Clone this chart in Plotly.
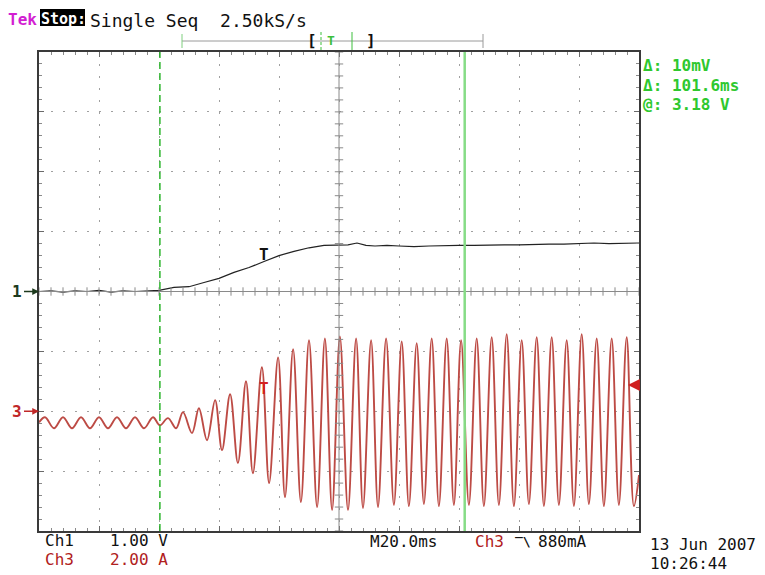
import plotly.graph_objects as go

# ---------------- data ----------------
# time in ms from left edge of screen (20 ms/div, 10 div)
ch1_t = [0, 4, 8, 12, 16, 20, 24, 28, 32, 36, 40, 45, 50, 55, 60, 65, 70, 75, 80,
         85, 90, 95, 100, 103, 106, 109, 112, 116, 120, 125, 130, 135, 140, 145,
         150, 155, 160, 165, 170, 175, 180, 185, 190, 195, 200]
ch1_v = [0.0, 0.01, -0.01, 0.01, 0.0, 0.02, -0.01, 0.01, 0.0, 0.01, 0.02, 0.07,
         0.08, 0.15, 0.22, 0.32, 0.40, 0.50, 0.60, 0.67, 0.73, 0.77, 0.78, 0.78,
         0.81, 0.77, 0.76, 0.77, 0.76, 0.75, 0.76, 0.77, 0.77, 0.77, 0.78, 0.78,
         0.78, 0.79, 0.79, 0.79, 0.80, 0.81, 0.80, 0.81, 0.81]

# Ch3 current extrema (ms, A)
ch3_t = [0.0, 2.0, 5.0, 8.0, 11.0, 14.0, 17.0, 20.0, 23.0, 26.0, 29.0, 32.0, 35.0,
         38.0, 40.3, 43.0, 45.7, 48.0, 51.0, 53.3, 56.0, 58.7, 61.0, 63.7, 66.3,
         69.0, 71.3, 74.3, 76.7, 79.7, 82.0, 84.7, 87.3, 90.0, 92.7, 95.3, 97.7,
         100.3, 103.0, 105.7, 108.0, 110.7, 113.0, 115.7, 118.3, 120.9, 123.3,
         125.9, 128.3, 130.9, 133.3, 135.9, 138.3, 140.7, 143.3, 145.9, 148.3,
         150.9, 153.3, 155.9, 158.3, 160.9, 163.3, 165.9, 168.3, 170.9, 173.3,
         175.9, 178.3, 180.9, 183.3, 185.9, 188.3, 190.9, 193.3, 195.9, 198.3, 200.0]
ch3_a = [-0.37, -0.20, -0.57, -0.20, -0.57, -0.20, -0.57, -0.20, -0.57, -0.20,
         -0.57, -0.20, -0.57, -0.20, -0.47, -0.23, -0.57, -0.03, -0.73, 0.10,
         -0.97, 0.37, -1.30, 0.57, -1.73, 1.00, -2.07, 1.47, -2.40, 1.80, -2.87,
         2.07, -3.03, 2.37, -3.20, 2.43, -3.30, 2.50, -3.30, 2.43, -3.23, 2.37,
         -3.20, 2.43, -3.13, 2.33, -3.17, 2.27, -3.10, 2.43, -3.17, 2.43, -3.13,
         2.37, -3.13, 2.43, -3.17, 2.47, -3.13, 2.57, -3.17, 2.37, -3.10, 2.47,
         -3.17, 2.47, -3.13, 2.37, -3.17, 2.57, -3.10, 2.43, -3.17, 2.43, -3.13,
         2.47, -3.17, -2.13]

ch1_scale = 1.0      # V/div
ch3_scale = 2.0      # A/div
ch3_offset = -2.0    # div (marker "3")
cursor_t = [40.3, 141.9]
trig_t = 75.0
trig_level = 0.88    # A

# ---------------- helpers (page pixel -> paper) ----------------
PAGE_W, PAGE_H = 765, 575
OFF = 8                      # default body margin of the page
L, R, T, B = 39, 639, 52, 531  # graticule frame in page pixels


def px(x):
    return (x - L) / (R - L)


def py(y):
    return (B - y) / (B - T)


FONT = "DejaVu Sans Mono, Liberation Mono, monospace"
NB = "\u00a0"

fig = go.Figure()

fig.add_trace(go.Scatter(
    x=ch3_t, y=[ch3_offset + a / ch3_scale for a in ch3_a], mode="lines",
    line=dict(color="#bd4b45", width=1.9, shape="spline", smoothing=1.0),
    hoverinfo="skip", name="Ch3"))
fig.add_trace(go.Scatter(
    x=ch1_t, y=[v / ch1_scale for v in ch1_v], mode="lines",
    line=dict(color="#222222", width=1.2), hoverinfo="skip", name="Ch1"))

shapes = []
# centre cross
shapes.append(dict(type="line", xref="x", yref="y", x0=0, x1=200, y0=0, y1=0,
                   line=dict(color="#8a8a8a", width=1)))
shapes.append(dict(type="line", xref="x", yref="y", x0=100, x1=100, y0=-4, y1=4,
                   line=dict(color="#8a8a8a", width=1)))
for k in range(51):
    xx = 4 * k
    shapes.append(dict(type="line", xref="x", yref="y", x0=xx, x1=xx, y0=-0.07, y1=0.07,
                       line=dict(color="#8a8a8a", width=1)))
for k in range(41):
    yy = -4 + 0.2 * k
    shapes.append(dict(type="line", xref="x", yref="y", x0=98.6, x1=101.4, y0=yy, y1=yy,
                       line=dict(color="#8a8a8a", width=1)))
# cursors
shapes.append(dict(type="line", xref="x", yref="y", x0=cursor_t[0], x1=cursor_t[0],
                   y0=-4, y1=4, line=dict(color="#2fb52f", width=1.5, dash="7px,4px")))
shapes.append(dict(type="line", xref="x", yref="y", x0=cursor_t[1], x1=cursor_t[1],
                   y0=-4, y1=4, line=dict(color="#86dc86", width=2.5)))
# top record ruler
shapes.append(dict(type="line", xref="paper", yref="paper", x0=px(182), x1=px(483),
                   y0=py(41), y1=py(41), line=dict(color="#9a9a9a", width=1)))
shapes.append(dict(type="line", xref="paper", yref="paper", x0=px(182), x1=px(182),
                   y0=py(34), y1=py(48), line=dict(color="#7fcf7f", width=1)))
shapes.append(dict(type="line", xref="paper", yref="paper", x0=px(483), x1=px(483),
                   y0=py(34), y1=py(48), line=dict(color="#9a9a9a", width=1)))
shapes.append(dict(type="line", xref="paper", yref="paper", x0=px(321), x1=px(321),
                   y0=py(32), y1=py(50), line=dict(color="#3cbf3c", width=1, dash="3px,2px")))
shapes.append(dict(type="line", xref="paper", yref="paper", x0=px(352), x1=px(352),
                   y0=py(32), y1=py(50), line=dict(color="#3cbf3c", width=1)))
# "Stop:" box
shapes.append(dict(type="rect", xref="paper", yref="paper", x0=px(40), x1=px(85),
                   y0=py(26), y1=py(9), fillcolor="#000000", line=dict(width=0)))

ann = []


def text(x, y, s, color="#111111", size=16, anchor="left", bold=True, yanchor="middle"):
    ann.append(dict(xref="paper", yref="paper", x=px(x), y=py(y),
                    text=(f"<b>{s}</b>" if bold else s),
                    showarrow=False, xanchor=anchor, yanchor=yanchor, borderpad=0,
                    font=dict(family=FONT, size=size, color=color)))


# status line (top of the drawable area)
text(7, 8.5, "Tek", color="#d21ed2", size=16, yanchor="top")
text(40, 8.5, "Stop:", color="#ffffff", size=15, yanchor="top")
text(89, 8.5, f"Single{NB}Seq{NB}{NB}2.50kS/s", size=18, bold=False, yanchor="top")
text(306, 41, "[", size=16)
text(365, 41, "]", size=16)
text(331, 41, "T", color="#3cbf3c", anchor="center", size=13)

text(642, 66, "Δ: 10mV", color="#2ec82e", size=16)
text(642, 85, "Δ: 101.6ms", color="#2ec82e", size=16)
text(642, 104, "@: 3.18 V", color="#2ec82e", size=16)

text(44, 540, "Ch1", bold=False)
text(109, 540, "1.00 V", bold=False)
text(44, 559, "Ch3", color="#b02020", bold=False)
text(109, 559, "2.00 A", color="#b02020", bold=False)
text(369, 541, "M20.0ms", bold=False)
text(474, 541, "Ch3", color="#b02020", bold=False)
text(514, 541, "‾\\", size=13)
text(537, 541, "880mA", bold=False)
text(649, 544.5, "13 Jun 2007", bold=False)
text(649, 574, "10:26:44", bold=False, yanchor="bottom")

# channel ground markers
ann.append(dict(xref="paper", yref="y", x=0, y=0, text="<b>1</b>", showarrow=True,
                ax=-15, ay=0, arrowhead=2, arrowsize=0.9, arrowwidth=1.5,
                arrowcolor="#1d3a1d", standoff=0, xanchor="right",
                font=dict(family=FONT, size=16, color="#1d3a1d")))
ann.append(dict(xref="paper", yref="y", x=0, y=ch3_offset, text="<b>3</b>", showarrow=True,
                ax=-15, ay=0, arrowhead=2, arrowsize=0.9, arrowwidth=1.5,
                arrowcolor="#c02828", standoff=0, xanchor="right",
                font=dict(family=FONT, size=16, color="#c02828")))
# trigger level marker (right)
ann.append(dict(xref="x", yref="y", x=196.3, y=ch3_offset + trig_level / ch3_scale, text="",
                showarrow=True, ax=10, ay=0, arrowhead=2, arrowsize=1.2, arrowwidth=2,
                arrowcolor="#d02020", standoff=0))
# trigger position markers
ann.append(dict(xref="x", yref="y", x=trig_t, y=0.62, text="<b>T</b>", showarrow=False,
                font=dict(family=FONT, size=16, color="#111111")))
ann.append(dict(xref="x", yref="y", x=trig_t, y=ch3_offset + 0.75 / ch3_scale, text="<b>T</b>",
                showarrow=False, font=dict(family=FONT, size=16, color="#d42020")))

axis_common = dict(showgrid=True, gridcolor="#a0a0a0", gridwidth=1, griddash="2px,10px",
                   zeroline=False, showline=True, linecolor="#3a3a3a", linewidth=2,
                   mirror="allticks", ticks="inside", ticklen=5, tickcolor="#6a6a6a",
                   showticklabels=False, fixedrange=True)
fig.update_layout(
    width=PAGE_W - OFF, height=PAGE_H - OFF,
    margin=dict(l=L - OFF, r=PAGE_W - R, t=T - OFF, b=PAGE_H - B),
    paper_bgcolor="white", plot_bgcolor="white", showlegend=False,
    xaxis=dict(range=[0, 200], tick0=0, dtick=20,
               minor=dict(dtick=4, ticks="inside", ticklen=3, tickcolor="#8a8a8a", showgrid=False),
               **axis_common),
    yaxis=dict(range=[-4, 4], tick0=-4, dtick=1,
               minor=dict(dtick=0.2, ticks="inside", ticklen=3, tickcolor="#8a8a8a", showgrid=False),
               **axis_common),
    shapes=shapes, annotations=ann,
)

fig.write_html("out.html")
